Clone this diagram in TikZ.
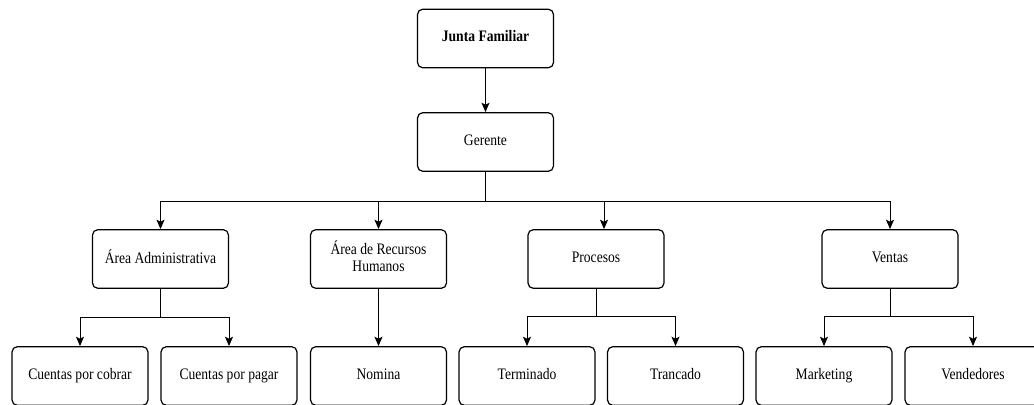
\documentclass[tikz,border=0pt]{standalone}
\usepackage{fontspec}
\setmainfont{LiberationSerif-Regular.ttf}[BoldFont=LiberationSerif-Bold.ttf, FakeStretch=0.85]
\usetikzlibrary{arrows.meta}

\begin{document}
\begin{tikzpicture}[
    x=0.75pt, y=-0.75pt,
    box/.style={draw, rectangle, rounded corners=4pt, line width=0.9pt, minimum width=102pt, minimum height=44pt, align=center, font=\fontsize{12}{13}\selectfont, execute at begin node=\strut, execute at end node=\strut},
    link/.style={-{Stealth[length=7pt, width=6pt, inset=1.5pt]}, line width=0.75pt}
]
    \useasboundingbox (0,0) rectangle (1034,404);
    \clip (0,0) rectangle (1034,404);

    % top of the chart
    \node[box] (junta) at (485.5,38.5) {\textbf{Junta Familiar}};
    \node[box] (gerente) at (485.5,142) {Gerente};

    % areas
    \node[box] (admin) at (160.5,259) {Área Administrativa};
    \node[box] (rrhh) at (378.5,259) {Área de Recursos\\Humanos};
    \node[box] (procesos) at (596,259) {Procesos};
    \node[box] (ventas) at (890,259) {Ventas};

    % second level
    \node[box] (cobrar) at (80,376) {Cuentas por cobrar};
    \node[box] (pagar) at (229,376) {Cuentas por pagar};
    \node[box] (nomina) at (378.5,376) {Nomina};
    \node[box] (terminado) at (527,376) {Terminado};
    \node[box] (trancado) at (675.5,376) {Trancado};
    \node[box] (marketing) at (824,376) {Marketing};
    \node[box] (vendedores) at (973,376) {Vendedores};

    \coordinate (split) at (485.5,201);

    \draw[link] (junta) -- (gerente);
    \draw[link] (gerente.south) -- (split) -| (admin.north);
    \draw[link] (split) -| (rrhh.north);
    \draw[link] (split) -| ([xshift=6pt]procesos.north);
    \draw[link] (split) -| (ventas.north);

    \draw[link] (admin.south) -- ++(0,29) -| (cobrar.north);
    \draw[link] (admin.south) -- ++(0,29) -| (pagar.north);
    \draw[link] (rrhh) -- (nomina);
    \draw[link] (procesos.south) -- ++(0,28) -| (terminado.north);
    \draw[link] (procesos.south) -- ++(0,28) -| (trancado.north);
    \draw[link] (ventas.south) -- ++(0,28) -| (marketing.north);
    \draw[link] (ventas.south) -- ++(0,28) -| (vendedores.north);
\end{tikzpicture}
\end{document}
